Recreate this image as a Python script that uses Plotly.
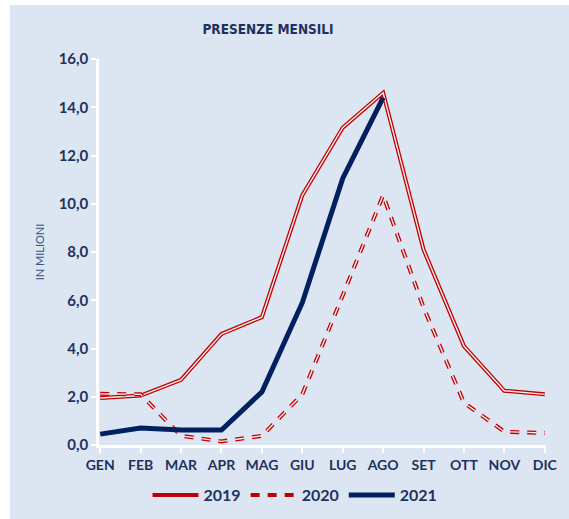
import plotly.graph_objects as go

months = ["GEN", "FEB", "MAR", "APR", "MAG", "GIU", "LUG", "AGO", "SET", "OTT", "NOV", "DIC"]
y2019 = [1.95, 2.05, 2.7, 4.6, 5.3, 10.35, 13.15, 14.6, 8.1, 4.1, 2.25, 2.1]
y2020 = [2.12, 2.1, 0.38, 0.15, 0.38, 2.1, 6.2, 10.35, 5.7, 1.75, 0.55, 0.5]
y2021 = [0.45, 0.7, 0.62, 0.62, 2.2, 5.9, 11.05, 14.4]
months2021 = months[:len(y2021)]
series_names = ["2019", "2020", "2021"]

RED = "#c00000"
NAVY = "#002060"
TXT = "#1f3160"
BG = "#dce6f2"
INNER = "#f6eeee"
FONT = "Lato"

fig = go.Figure()
# 2019 double line
fig.add_trace(go.Scatter(x=months, y=y2019, mode="lines", name=series_names[0],
                         line=dict(color=RED, width=4), legendrank=1))
fig.add_trace(go.Scatter(x=months, y=y2019, mode="lines", showlegend=False, hoverinfo="skip",
                         line=dict(color=INNER, width=1.4)))
# 2020 dashed double line
fig.add_trace(go.Scatter(x=months, y=y2020, mode="lines", name=series_names[1],
                         line=dict(color=RED, width=4, dash="9px,8px"), legendrank=2))
fig.add_trace(go.Scatter(x=months, y=y2020, mode="lines", showlegend=False, hoverinfo="skip",
                         line=dict(color=INNER, width=1.4, dash="9px,8px")))
# 2021 thick navy
fig.add_trace(go.Scatter(x=months2021, y=y2021, mode="lines", name=series_names[2],
                         line=dict(color=NAVY, width=5), legendrank=3))

W, H = 569, 519
l, r, t, b = 99, 23, 59, 74
pw, ph = W - l - r, H - t - b

fig.update_layout(
    width=W, height=H,
    margin=dict(l=l, r=r, t=t, b=b, pad=0, autoexpand=False),
    paper_bgcolor="white",
    plot_bgcolor=BG,
    font=dict(family=FONT, color=TXT, size=14),
    title=dict(text="<b>PRESENZE MENSILI</b>", x=268 / W, xanchor="center",
               y=1 - 29 / H, yanchor="middle", xref="container", yref="container",
               font=dict(family="DejaVu Sans Condensed", size=13.5, color=TXT)),
    showlegend=True,
    legend=dict(orientation="h", x=(295 - l) / pw, xanchor="center",
                y=(H - b - 495) / ph, yanchor="middle",
                font=dict(family=FONT, size=16, color=TXT, weight="bold"),
                bgcolor="rgba(0,0,0,0)", itemwidth=46, traceorder="normal"),
    shapes=[dict(type="rect", xref="paper", yref="paper", layer="below",
                 x0=(10 - l) / pw, x1=(W - l) / pw + 0.01,
                 y0=-(b + 2) / ph, y1=(H - b - 5) / ph,
                 fillcolor=BG, line=dict(width=0))],
)

fig.update_xaxes(type="category", categoryorder="array", categoryarray=months,
                 range=[-0.03, 11.03], showgrid=False, zeroline=False, automargin=False,
                 showline=True, linecolor="white", linewidth=2.5,
                 ticks="outside", tickcolor="white", ticklen=5, tickwidth=2,
                 tickfont=dict(family=FONT, size=14, color=TXT, weight="bold"))
fig.update_yaxes(range=[0, 16], dtick=2, tickformat=".1f", showgrid=False, zeroline=False,
                 automargin=False,
                 showline=True, linecolor="white", linewidth=2.5,
                 ticks="outside", tickcolor="white", ticklen=5, tickwidth=2,
                 tickfont=dict(family=FONT, size=15, color=TXT, weight="bold"),
                 title=dict(text="IN MILIONI", standoff=12,
                            font=dict(family=FONT, size=11, color="#3f5583")))
fig.update_layout(separators=",.")

fig.write_html("out.html", config={"displayModeBar": False},
               post_script="document.body.style.margin='0';document.body.style.overflow='hidden';")
